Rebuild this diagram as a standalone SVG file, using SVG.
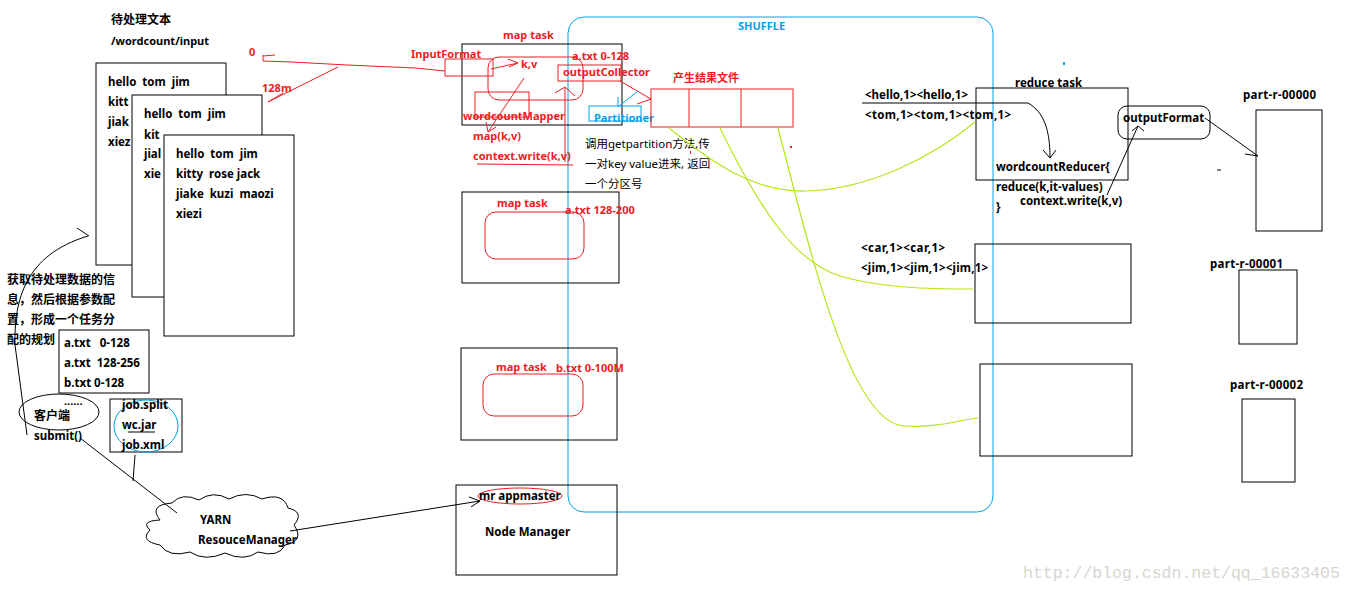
<svg xmlns="http://www.w3.org/2000/svg" width="1354" height="593" viewBox="0 0 1354 593">
<style>
text{font-family:"Noto Sans","Noto Sans CJK SC",sans-serif;font-size:11px;font-weight:bold;white-space:pre;fill:#000}
.t12{font-size:11.5px}
.cjk{font-size:12px}
.red{fill:#ed1c24}
.blu{fill:#00a2e8}
.reg{font-weight:normal;font-size:11.5px}
.wm{font-family:"Liberation Mono",monospace;font-weight:normal;font-size:16.5px;fill:#d6d6cf}
.k{fill:none;stroke:#000;stroke-width:1}
.kw{fill:#fff;stroke:#000;stroke-width:1}
.r{fill:none;stroke:#ed1c24;stroke-width:1}
.b{fill:none;stroke:#00a2e8;stroke-width:1}
.g{fill:none;stroke:#b5e61d;stroke-width:1.2}
</style>
<rect width="1354" height="593" fill="#fff"/>

<g id="shuffle">
<rect class="b" x="568" y="17" width="425" height="495" rx="16"/>
<text class="blu" x="738" y="30">SHUFFLE</text>
</g>

<g id="input-title">
<text class="cjk" x="111" y="24">待处理文本</text>
<text x="111" y="45">/wordcount/input</text>
</g>

<g id="doc1">
<rect class="kw" x="96" y="63" width="130" height="202"/>
<text class="t12" x="108" y="86">hello  tom  jim</text>
<text class="t12" x="108" y="106">kitt</text>
<text class="t12" x="108" y="126">jiak</text>
<text class="t12" x="108" y="146">xiez</text>
</g>
<g id="doc2">
<rect class="kw" x="132" y="95" width="130" height="202"/>
<text class="t12" x="144" y="118">hello  tom  jim</text>
<text class="t12" x="144" y="139">kit</text>
<text class="t12" x="144" y="158">jial</text>
<text class="t12" x="144" y="178">xie</text>
</g>
<g id="doc3">
<rect class="kw" x="164" y="135" width="130" height="201"/>
<text class="t12" x="176" y="158">hello  tom  jim</text>
<text class="t12" x="176" y="178">kitty  rose jack</text>
<text class="t12" x="176" y="198">jiake  kuzi  maozi</text>
<text class="t12" x="176" y="218">xiezi</text>
</g>

<g id="plan-note">
<text class="cjk" x="7" y="284">获取待处理数据的信</text>
<text class="cjk" x="7" y="304">息，然后根据参数配</text>
<text class="cjk" x="7" y="324">置，形成一个任务分</text>
<text class="cjk" x="7" y="344">配的规划</text>
</g>

<g id="splits">
<rect class="kw" x="59" y="330" width="90" height="63"/>
<text class="t12" x="64" y="347">a.txt   0-128</text>
<text class="t12" x="64" y="367">a.txt  128-256</text>
<text class="t12" x="64" y="387">b.txt 0-128</text>
<text x="64" y="405">......</text>
</g>

<g id="client">
<ellipse class="k" cx="59" cy="412" rx="40" ry="18"/>
<text class="cjk" x="34" y="420">客户端</text>
<text class="t12" x="34" y="440">submit()</text>
</g>

<g id="job-files">
<rect class="kw" x="110" y="399" width="72" height="53"/>
<ellipse class="b" cx="146" cy="426" rx="32" ry="26"/>
<text class="t12" x="122" y="409">job.split</text>
<text class="t12" x="122" y="429">wc.jar</text>
<line class="k" x1="128" y1="432" x2="155" y2="432"/>
<text class="t12" x="122" y="449">job.xml</text>
</g>

<g id="yarn">
<path class="kw" d="M160,520 Q148,505 172,503 Q182,492 199,500 Q213,490 229,499 Q246,490 262,499 Q283,492 288,508 Q305,512 294,525 Q305,541 285,545 Q279,558 258,552 Q244,562 225,553 Q205,562 190,552 Q169,558 160,545 Q139,541 150,530 Q140,521 160,520 Z"/>
<text class="t12" x="200" y="524">YARN</text>
<text class="t12" x="198" y="544">ResouceManager</text>
</g>

<g id="maptask1">
<rect class="k" x="462" y="44" width="160" height="81"/>
<text class="red" x="503" y="39">map task</text>
<rect class="r" x="445" y="59" width="48" height="17"/>
<text class="red" x="411" y="58">InputFormat</text>
<rect class="r" x="488" y="57" width="95" height="43" rx="11"/>
<rect class="r" x="475" y="92" width="54" height="25"/>
<text class="red" x="463" y="120">wordcountMapper</text>
<text class="red" x="521" y="68">k,v</text>
<text class="red" x="572" y="60">a.txt 0-128</text>
<rect class="r" x="558" y="65" width="63" height="16"/>
<text class="red" x="563" y="76">outputCollector</text>
<text class="red" x="473" y="140">map(k,v)</text>
<text class="red" x="473" y="160">context.write(k,v)</text>
<rect class="b" x="589" y="106" width="52" height="15"/>
<text class="blu" x="594" y="122">Partitioner</text>
</g>

<g id="result-files">
<text class="red" x="673" y="82">产生结果文件</text>
<rect class="r" x="651" y="89" width="142" height="38"/>
<line class="r" x1="689" y1="89" x2="689" y2="127"/>
<line class="r" x1="741" y1="89" x2="741" y2="127"/>
</g>

<g id="partition-note">
<text class="reg" x="585" y="148">调用getpartition方法,传</text>
<text class="reg" x="585" y="168">一对key value进来, 返回</text>
<text class="reg" x="585" y="188">一个分区号</text>
</g>

<g id="maptask2">
<rect class="k" x="462" y="192" width="157" height="91"/>
<rect class="r" x="485" y="212" width="99" height="47" rx="11"/>
<text class="red" x="497" y="207">map task</text>
<text class="red" x="565" y="214">a.txt 128-200</text>
</g>

<g id="maptask3">
<rect class="k" x="461" y="348" width="156" height="92"/>
<rect class="r" x="483" y="374" width="100" height="42" rx="11"/>
<text class="red" x="496" y="371">map task</text>
<text class="red" x="556" y="372">b.txt 0-100M</text>
</g>

<g id="nodemanager">
<rect class="k" x="456" y="485" width="161" height="90"/>
<ellipse class="r" cx="520" cy="496" rx="42" ry="8"/>
<text class="t12" x="479" y="500">mr appmaster</text>
<text class="t12" x="485" y="536">Node Manager</text>
</g>

<g id="reduce1">
<rect class="k" x="976" y="88" width="152" height="92"/>
<text class="t12" x="1015" y="87">reduce task</text>
<text class="t12" x="865" y="99" textLength="103">&lt;hello,1&gt;&lt;hello,1&gt;</text>
<text class="t12" x="865" y="119" textLength="146">&lt;tom,1&gt;&lt;tom,1&gt;&lt;tom,1&gt;</text>
<text class="t12" x="996" y="171">wordcountReducer{</text>
<text class="t12" x="996" y="191">reduce(k,it-values)</text>
<text class="t12" x="1020" y="205">context.write(k,v)</text>
<text class="t12" x="996" y="211">}</text>
</g>

<g id="outputformat">
<rect class="k" x="1118" y="106" width="92" height="33" rx="9"/>
<text class="t12" x="1123" y="122">outputFormat</text>
</g>

<g id="reduce2">
<rect class="k" x="975" y="244" width="156" height="79"/>
<text class="t12" x="861" y="252" textLength="84">&lt;car,1&gt;&lt;car,1&gt;</text>
<text class="t12" x="861" y="272" textLength="127">&lt;jim,1&gt;&lt;jim,1&gt;&lt;jim,1&gt;</text>
</g>

<g id="reduce3">
<rect class="k" x="980" y="364" width="152" height="92"/>
</g>

<g id="part0">
<text class="t12" x="1243" y="99" textLength="73">part-r-00000</text>
<rect class="k" x="1256" y="110" width="66" height="121"/>
</g>
<g id="part1">
<text class="t12" x="1210" y="268" textLength="73">part-r-00001</text>
<rect class="k" x="1239" y="270" width="58" height="74"/>
</g>
<g id="part2">
<text class="t12" x="1230" y="389" textLength="73">part-r-00002</text>
<rect class="k" x="1242" y="399" width="53" height="83"/>
</g>

<g id="connectors">
<text class="red" x="249" y="56">0</text>
<text class="red" x="262" y="92">128m</text>
<path class="r" d="M263,55 L263,61 L292,62 L347,65 L415,68 L445,71"/>
<path class="r" d="M263,56 L275,55"/>
<path class="r" d="M338,67 L268,102 M283,93 L268,102"/>
<path class="r" d="M491,69 L518,63 M508,59 L518,63 L509,67"/>
<path class="r" d="M524,78 L488,132 M486,122 L488,132 L496,127"/>
<path class="r" d="M565,162 L565,88 M555,93 L565,87 L575,96"/>
<path class="r" d="M477,164 L573,165"/>
<path class="r" d="M620,81 L651,99 M637,104 L651,99"/>
<path class="b" d="M638,91 L619,106 M618,97 L618,107"/>
<path class="k" d="M27,435 L15,345 C14,300 25,255 88,236 M77,228 L89,236"/>
<path class="k" d="M80,438 L177,513"/>
<path class="k" d="M135,455 L133,481"/>
<path class="k" d="M290,531 L480,501 M469,497 L480,501 L471,507"/>
<path class="k" d="M862,103 L1028,103 C1044,112 1050,130 1050,158 M1043,150 L1050,158 L1056,150"/>
<path class="k" d="M1107,195 L1138,126 M1132,131 L1138,126 L1144,131"/>
<path class="k" d="M1205,118 L1258,156 M1245,154 L1258,156"/>
<path class="g" d="M669,128 C715,165 755,192 805,191 C870,190 935,155 975,122"/>
<path class="g" d="M720,128 C760,210 795,262 840,276 C880,288 930,289 973,289"/>
<path class="g" d="M778,128 C810,250 850,425 905,426 C940,428 958,420 978,418"/>
<rect x="1063" y="62" width="2" height="3" fill="#00a2e8"/>
<rect x="790" y="146" width="2" height="2" fill="#ed1c24"/>
<rect x="690" y="151" width="1" height="3" fill="#ed1c24"/>
<path class="k" d="M1217,170 L1221,170"/>
</g>

<text class="wm" x="1023" y="578">http://blog.csdn.net/qq_16633405</text>
</svg>
